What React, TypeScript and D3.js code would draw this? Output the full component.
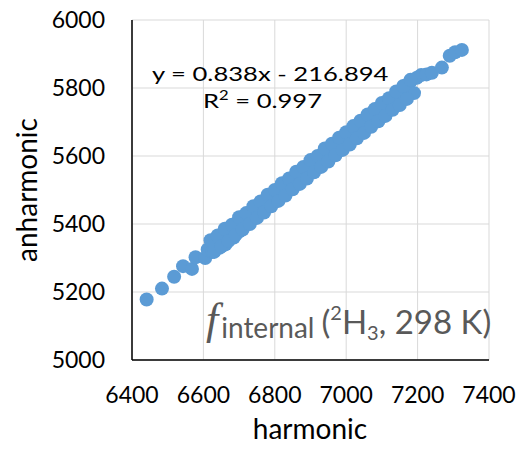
import React from "react";
import * as d3 from "d3";

const harmonic = [
  6441, 6484, 6518, 6543, 6568, 6578, 6605, 6612, 6625, 6640, 6645, 6655, 6662, 6670, 6678, 6685,
  6692, 6700, 6705, 6712, 6718, 6725, 6730, 6738, 6742, 6750, 6755, 6760, 6768, 6772, 6778, 6785,
  6790, 6795, 6800, 6805, 6810, 6815, 6820, 6826, 6830, 6836, 6840, 6846, 6850, 6856, 6860, 6866,
  6870, 6876, 6880, 6886, 6890, 6896, 6900, 6906, 6910, 6916, 6920, 6926, 6930, 6936, 6940, 6946,
  6950, 6956, 6960, 6966, 6970, 6976, 6980, 6986, 6990, 6996, 7000, 7006, 7010, 7016, 7020, 7026,
  7030, 7036, 7040, 7046, 7050, 7056, 7060, 7066, 7070, 7076, 7080, 7086, 7090, 7096, 7100, 7108,
  7115, 7122, 7130, 7138, 7145, 7152, 7160, 7168, 7175, 7182, 7190, 7198, 7210, 7225, 7240, 7268,
  7290, 7305, 7324,
  6620, 6640, 6660, 6680, 6700, 6720, 6740, 6760, 6780, 6800, 6820, 6840, 6860, 6880, 6900, 6920,
  6940, 6960, 6980, 7000, 7020, 7040, 7060, 7080, 7100, 7120, 7140, 7160, 7180,
  6630, 6650, 6670, 6690, 6710, 6730, 6750, 6770, 6790, 6810, 6830, 6850, 6870, 6890, 6910, 6930,
  6950, 6970, 6990, 7010, 7030, 7050, 7070, 7090, 7110, 7130, 7150, 7170,
];
const anharmonic = [
  5178, 5210, 5245, 5276, 5268, 5302, 5300, 5325, 5318, 5345, 5330, 5352, 5340, 5365, 5372, 5360,
  5385, 5378, 5402, 5392, 5420, 5428, 5405, 5418, 5435, 5428, 5445, 5438, 5452, 5462, 5450, 5470,
  5462, 5478, 5472, 5488, 5480, 5495, 5488, 5505, 5498, 5512, 5505, 5520, 5514, 5530, 5522, 5538,
  5530, 5548, 5540, 5555, 5548, 5565, 5556, 5575, 5566, 5584, 5576, 5594, 5584, 5604, 5595, 5612,
  5602, 5622, 5612, 5630, 5620, 5640, 5630, 5648, 5640, 5656, 5648, 5666, 5656, 5674, 5664, 5684,
  5675, 5692, 5684, 5702, 5692, 5710, 5700, 5720, 5710, 5728, 5718, 5736, 5726, 5745, 5735, 5752,
  5745, 5764, 5756, 5775, 5762, 5790, 5800, 5808, 5795, 5822, 5785, 5830, 5838, 5840, 5845, 5860,
  5895, 5905, 5912,
  5352, 5366, 5386, 5398, 5420, 5432, 5452, 5466, 5486, 5500, 5520, 5534, 5554, 5568, 5588, 5600,
  5622, 5636, 5654, 5670, 5688, 5704, 5722, 5738, 5756, 5770, 5790, 5806, 5824,
  5318, 5334, 5350, 5368, 5384, 5400, 5418, 5434, 5452, 5468, 5484, 5502, 5518, 5534, 5552, 5568,
  5584, 5602, 5618, 5634, 5652, 5668, 5686, 5702, 5718, 5736, 5750, 5768,
];
const xTicks = [6400, 6600, 6800, 7000, 7200, 7400];
const yTicks = [5000, 5200, 5400, 5600, 5800, 6000];

const W = 522;
const H = 453;
const L = 132, R = 489, T = 20, B = 360;

export default function App() {
  const x = d3.scaleLinear().domain([6400, 7400]).range([L, R]);
  const y = d3.scaleLinear().domain([5000, 6000]).range([B, T]);
  const font = "Lato, 'Open Sans', sans-serif";
  return (
    <svg width={W} height={H} style={{ position: "absolute", left: 0, top: 0, background: "#fff" }}>
      {yTicks.map((t) => (
        <line key={"gy" + t} x1={L} x2={R} y1={y(t)} y2={y(t)} stroke="#d9d9d9" strokeWidth={1} />
      ))}
      {xTicks.map((t) => (
        <line key={"gx" + t} x1={x(t)} x2={x(t)} y1={T} y2={B} stroke="#d9d9d9" strokeWidth={1} />
      ))}
      <text x={206} y={334} fill="#595959" fontFamily={font}>
        <tspan fontFamily="'Liberation Serif', serif" fontStyle="italic" fontSize={44}>f</tspan>
        <tspan fontSize={28} dx={3} dy={4}>internal</tspan>
        <tspan fontSize={33} dy={-4} dx={7}>(</tspan>
        <tspan fontSize={20} dy={-14}>2</tspan>
        <tspan fontSize={33} dy={14}>H</tspan>
        <tspan fontSize={20} dy={6}>3</tspan>
        <tspan fontSize={33} dy={-6}>, 298 K)</tspan>
      </text>
      {harmonic.map((h, i) => (
        <circle key={i} cx={x(h)} cy={y(anharmonic[i])} r={7} fill="#5b9bd5" />
      ))}
      <line x1={L} x2={L} y1={T} y2={B} stroke="#000" strokeWidth={1.5} />
      <line x1={L} x2={R} y1={B} y2={B} stroke="#000" strokeWidth={1.5} />
      {yTicks.map((t) => (
        <text key={"ty" + t} x={105} y={y(t)} dy="0.35em" textAnchor="end" fontFamily={font} fontSize={23} fill="#000">
          {t}
        </text>
      ))}
      {xTicks.map((t) => (
        <text key={"tx" + t} x={x(t)} y={403} textAnchor="middle" fontFamily={font} fontSize={23} fill="#000">
          {t}
        </text>
      ))}
      <text x={310} y={439} textAnchor="middle" fontFamily={font} fontSize={28} fill="#000">harmonic</text>
      <text transform={`translate(37,190) rotate(-90)`} textAnchor="middle" fontFamily={font} fontSize={28} fill="#000">
        anharmonic
      </text>
      <g transform="translate(152,81) scale(1.28,1)">
        <text x={0} y={0} fontFamily={font} fontSize={20} fill="#000">y = 0.838x - 216.894</text>
      </g>
      <g transform="translate(203,108) scale(1.28,1)">
        <text x={0} y={0} fontFamily={font} fontSize={20} fill="#000">
          R<tspan dy={-8} fontSize={13}>2</tspan><tspan dy={8}> = 0.997</tspan>
        </text>
      </g>
    </svg>
  );
}
